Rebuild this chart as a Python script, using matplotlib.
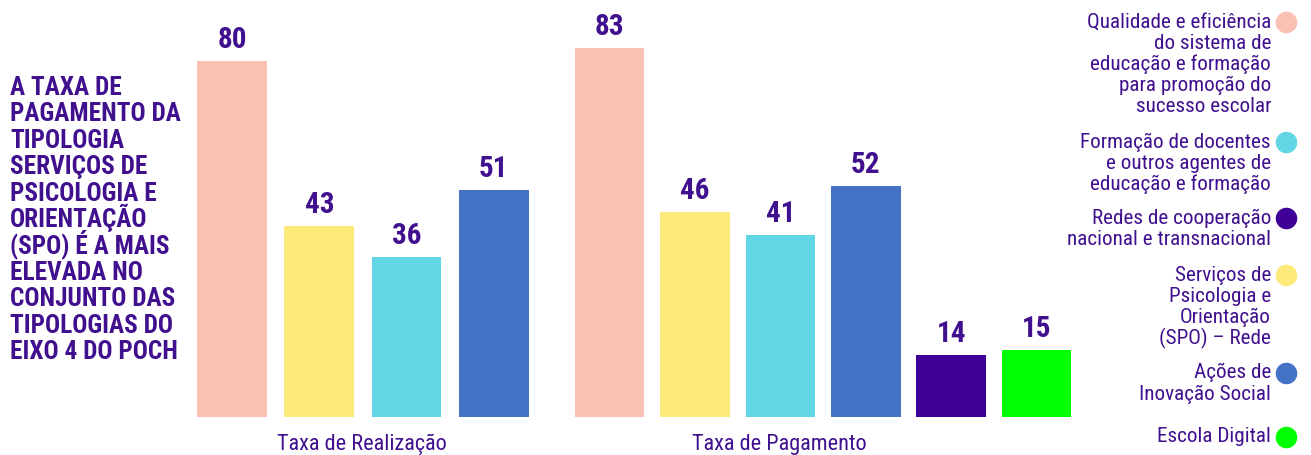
import matplotlib
matplotlib.use("Agg")
import matplotlib.pyplot as plt
from matplotlib.lines import Line2D
from matplotlib.font_manager import FontProperties, fontManager
import numpy as np

# ---------------- data ----------------
categories = [
    "Qualidade e eficiência\ndo sistema de\neducação e formação\npara promoção do\nsucesso escolar",
    "Formação de docentes\ne outros agentes de\neducação e formação",
    "Redes de cooperação\nnacional e transnacional",
    "Serviços de\nPsicologia e\nOrientação\n(SPO) – Rede",
    "Ações de\nInovação Social",
    "Escola Digital",
]
group_labels = ["Taxa de Realização", "Taxa de Pagamento"]
realizacao_cats = [0, 3, 1, 4]
realizacao_vals = [80, 43, 36, 51]
pagamento_cats = [0, 3, 1, 4, 2, 5]
pagamento_vals = [83, 46, 41, 52, 14, 15]
title_text = ("A TAXA DE\nPAGAMENTO DA\nTIPOLOGIA\nSERVIÇOS DE\nPSICOLOGIA E\nORIENTAÇÃO\n"
              "(SPO) É A MAIS\nELEVADA NO\nCONJUNTO DAS\nTIPOLOGIAS DO\nEIXO 4 DO POCH")

colors = ["#F9C1B4", "#62D6E4", "#3F0097", "#FEEA7A", "#4472C4", "#00FF00"]
txt_color = "#40108F"

def find_condensed(bold):
    prefs = ["robotocondensed", "liberationsansnarrow", "dejavusanscondensed",
             "opensanscondensed", "notosanscondensed", "condensed", "narrow"]
    files = [f.fname for f in fontManager.ttflist]
    for p in prefs:
        for fn in files:
            base = fn.replace("-", "").replace("_", "").lower().split("/")[-1]
            if p in base and base.endswith((".ttf", ".otf")):
                is_bold = "bold" in base and "semibold" not in base and "extrabold" not in base
                if "italic" in base or "oblique" in base:
                    continue
                if bold == is_bold:
                    return fn
    return None

bold_file = find_condensed(True)
reg_file = find_condensed(False)
fp_bold = FontProperties(fname=bold_file) if bold_file else FontProperties(family="DejaVu Sans", weight="bold")
fp_reg = FontProperties(fname=reg_file) if reg_file else FontProperties(family="DejaVu Sans")
condensed = bold_file is not None

W, H = 1311, 455
fig = plt.figure(figsize=(W / 100, H / 100), dpi=100)

def fx(px):
    return px / W

def fy(py):
    return 1 - py / H

ax_left, ax_right, base = 150, 1100, 417
ax = fig.add_axes([fx(ax_left), fy(base), fx(ax_right - ax_left), base / H])
unit = 86.0
x0 = 232.0
ax.set_xlim((ax_left - x0) / unit, (ax_right - x0) / unit)
ax.set_ylim(0, base / 4.45)
ax.axis("off")

pos1 = np.arange(len(realizacao_vals)) * 1.015
pos2 = 4.39 + np.arange(len(pagamento_vals)) * 0.993
width = 0.81

for pos, cats, vals in [(pos1, realizacao_cats, realizacao_vals),
                        (pos2, pagamento_cats, pagamento_vals)]:
    bars = ax.bar(pos, vals, width=width, color=[colors[c] for c in cats])
    for b, v in zip(bars, vals):
        ax.annotate(str(v), (b.get_x() + b.get_width() / 2, v), xytext=(0, 5),
                    textcoords="offset points", ha="center", va="bottom",
                    fontproperties=fp_bold, fontsize=21 if condensed else 18,
                    color=txt_color)

gl_size = 16 if condensed else 13
fig.text(fx(362), fy(450), group_labels[0], ha="center", va="baseline",
         fontproperties=fp_reg, fontsize=gl_size, color=txt_color)
fig.text(fx(779), fy(450), group_labels[1], ha="center", va="baseline",
         fontproperties=fp_reg, fontsize=gl_size, color=txt_color)

for i, line in enumerate(title_text.split("\n")):
    fig.text(fx(10), fy(95 + i * 26.4), line, ha="left", va="baseline",
             fontproperties=fp_bold, fontsize=18.2 if condensed else 14.5,
             color=txt_color)

circle_y = [21.7, 141.7, 218, 275, 372.7, 436.7]
leg_size = 15.2 if condensed else 12.5
for cat, col, cy in zip(categories, colors, circle_y):
    for j, line in enumerate(cat.split("\n")):
        fig.text(fx(1271), fy(cy + 5.8 + j * 21.2), line, ha="right", va="baseline",
                 fontproperties=fp_reg, fontsize=leg_size, color=txt_color)
    fig.add_artist(Line2D([fx(1286)], [fy(cy)], marker="o", markersize=14.5,
                          color=col, linestyle="none", transform=fig.transFigure))

fig.savefig("out.png", dpi=100)
